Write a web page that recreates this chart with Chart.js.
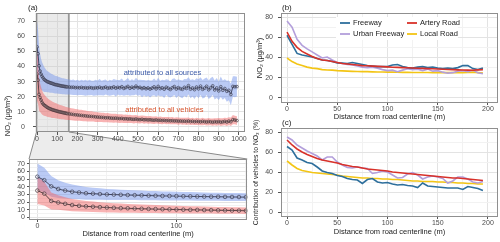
<!DOCTYPE html>
<html>
<head>
<meta charset="utf-8">
<script src="https://cdn.jsdelivr.net/npm/chart.js@4.4.1/dist/chart.umd.min.js"></script>
<style>
  html, body { margin: 0; padding: 0; background: #fff; }
  body { width: 500px; height: 242px; position: relative; overflow: hidden; font-family: "Liberation Sans", Arial, sans-serif; }
  .box { position: absolute; }
  #ytitleA { position: absolute; left: -32px; top: 111px; width: 80px; height: 10px; line-height: 10px; text-align: center;
             font-size: 7.5px; color: #222; transform: rotate(-90deg); white-space: nowrap; z-index: 3; }
</style>
</head>
<body>
<div class="box" style="left:0;top:128px;width:252px;height:114px;z-index:1"><canvas id="zoomChart"></canvas></div>
<div class="box" style="left:0;top:0;width:250px;height:148px;z-index:2"><canvas id="mainChart"></canvas></div>
<div class="box" style="left:250px;top:115px;width:250px;height:127px;z-index:1"><canvas id="shareChart"></canvas></div>
<div class="box" style="left:250px;top:0;width:250px;height:122px;z-index:2"><canvas id="no2Chart"></canvas></div>
<div id="ytitleA">NO₂ (μg/m³)</div>

<script>
// ---- panel (a): distance profile (m), NO2 mean and spread ----
const distNear = [0, 5, 10, 15, 20, 25, 30, 35, 40, 45, 50, 55, 60, 65, 70, 75, 80, 85, 90, 95,
  100, 105, 110, 115, 120, 125, 130, 135, 140, 145, 150];
const distFar = [160, 170, 180, 190, 200, 210, 220, 230, 240, 250, 260, 270, 280, 290, 300, 310, 320, 330, 340, 350,
  360, 370, 380, 390, 400, 410, 420, 430, 440, 450, 460, 470, 480, 490, 500, 510, 520, 530, 540, 550,
  560, 570, 580, 590, 600, 610, 620, 630, 640, 650, 660, 670, 680, 690, 700, 710, 720, 730, 740, 750,
  760, 770, 780, 790, 800, 810, 820, 830, 840, 850, 860, 870, 880, 890, 900, 910, 920, 930, 940, 950,
  960, 970, 980, 990];

const allSourcesNear = [53, 48.5, 40.5, 37, 35, 33.5, 32.5, 31.5, 31, 30.5, 30, 29.8, 29.5, 29.2, 29, 28.8, 28.5, 28.3, 28, 28,
  27.8, 27.6, 27.5, 27.3, 27.2, 27, 27, 26.8, 26.7, 26.6, 26.5];
const allSourcesFar = [26.4, 26.2, 26.3, 26.0, 26.1, 25.9, 26.2, 25.8, 26.0, 25.7,
  26.1, 25.9, 25.6, 26.0, 25.8, 26.3, 25.7, 25.9, 26.4, 25.6,
  26.0, 25.8, 26.5, 25.7, 26.2, 25.9, 26.6, 25.5, 26.1, 26.8,
  25.6, 26.3, 25.8, 27.0, 25.9, 26.2, 25.4, 26.0, 25.3, 25.8,
  25.1, 25.7, 26.5, 25.2, 26.8, 25.4, 25.9, 25.0, 26.3, 25.6,
  24.8, 25.9, 26.7, 25.1, 26.0, 25.3, 24.9, 26.2, 25.5, 27.3,
  25.0, 25.8, 24.7, 26.4, 25.2, 27.0, 24.9, 25.7, 26.9, 24.6,
  25.9, 27.2, 24.5, 25.8, 23.9, 26.6, 24.3, 25.4, 23.6, 24.2,
  21.5, 26.8, 26.6, 26.7];
const allSourcesSdNear = [17, 16, 13.5, 11.5, 10.2, 9.4, 8.8, 8.3, 7.8, 7.4, 7.1, 6.9, 6.7, 6.5, 6.3, 6.2, 6.1, 6.0, 5.9, 5.8,
  5.7, 5.6, 5.5, 5.5, 5.4, 5.3, 5.3, 5.2, 5.2, 5.1, 5.1];
const allSourcesSdFar = [5.0, 4.9, 5.1, 4.8, 5.2, 4.7, 5.0, 4.9, 5.3, 4.8,
  5.1, 4.7, 5.0, 5.2, 4.9, 5.4, 4.8, 5.1, 5.0, 4.7,
  5.3, 4.9, 5.2, 5.5, 4.8, 5.1, 5.4, 4.9, 5.2, 5.6,
  5.0, 5.3, 4.9, 5.5, 5.2, 5.0, 5.7, 5.1, 5.4, 5.2,
  5.6, 5.0, 5.5, 5.3, 5.8, 5.1, 5.4, 5.9, 5.2, 5.6,
  5.3, 5.8, 5.5, 6.0, 5.4, 5.7, 5.9, 5.5, 6.1, 5.6,
  6.0, 5.7, 6.2, 5.8, 6.3, 5.9, 6.1, 6.4, 5.8, 6.2,
  6.5, 6.0, 6.3, 6.6, 6.1, 6.8, 6.4, 6.2, 6.9, 6.5,
  7.2, 6.8, 7.0, 6.6];

const vehiclesNear = [35, 31, 21.5, 19.5, 17.8, 16.2, 15.2, 14.5, 14, 13.5, 13, 12.6, 12.2, 12, 11.7, 11.4, 11.2, 11, 10.8, 10.6,
  10.4, 10.2, 10, 9.9, 9.7, 9.6, 9.4, 9.3, 9.1, 9, 8.8];
const vehiclesFar = [8.6, 8.4, 8.2, 8.0, 7.9, 7.7, 7.6, 7.4, 7.3, 7.1,
  7.0, 6.9, 6.8, 6.6, 6.5, 6.4, 6.3, 6.2, 6.0, 6.1,
  5.9, 5.8, 5.7, 5.8, 5.6, 5.5, 5.6, 5.3, 5.4, 5.2,
  5.3, 5.1, 5.0, 5.2, 4.9, 4.8, 5.0, 4.7, 4.8, 4.6,
  4.7, 4.5, 4.4, 4.6, 4.3, 4.4, 4.2, 4.3, 4.1, 4.2,
  4.0, 4.1, 3.9, 4.0, 3.8, 3.9, 3.7, 3.8, 3.6, 3.9,
  3.5, 3.7, 3.4, 3.6, 3.5, 3.3, 3.6, 3.4, 3.2, 3.5,
  3.3, 3.1, 3.4, 3.2, 3.5, 3.1, 3.3, 3.6, 3.2, 3.8,
  3.4, 4.8, 4.5, 4.2];
const vehiclesSdNear = [17.5, 15.5, 11, 9.5, 8.7, 8, 7.5, 7.1, 6.8, 6.5, 6.3, 6.1, 5.9, 5.7, 5.6, 5.5, 5.3, 5.2, 5.1, 5.0,
  4.9, 4.8, 4.7, 4.6, 4.6, 4.5, 4.4, 4.4, 4.3, 4.2, 4.2];
const vehiclesSdFar = [4.1, 4.0, 3.9, 3.9, 3.8, 3.7, 3.7, 3.6, 3.5, 3.5,
  3.4, 3.4, 3.3, 3.3, 3.2, 3.2, 3.1, 3.1, 3.0, 3.1,
  3.0, 2.9, 3.0, 2.9, 2.8, 2.9, 2.8, 2.7, 2.8, 2.7,
  2.7, 2.6, 2.7, 2.6, 2.5, 2.6, 2.5, 2.6, 2.4, 2.5,
  2.5, 2.4, 2.5, 2.4, 2.3, 2.5, 2.4, 2.3, 2.4, 2.3,
  2.3, 2.4, 2.2, 2.3, 2.4, 2.2, 2.3, 2.2, 2.4, 2.3,
  2.2, 2.3, 2.2, 2.4, 2.2, 2.3, 2.5, 2.2, 2.3, 2.4,
  2.2, 2.4, 2.3, 2.5, 2.3, 2.6, 2.4, 2.5, 2.7, 2.6,
  2.8, 3.0, 2.8, 2.9];

// ---- panels (b) and (c): by road type ----
const roadTypes = ["Freeway", "Artery Road", "Urban Freeway", "Local Road"];
const roadColors = ["#2e6f9c", "#d8312a", "#b39fdb", "#f3c515"];
const roadDist = [0, 5, 10, 15, 20, 25, 30, 35, 40, 45, 50, 55, 60, 65, 70, 75, 80, 85, 90, 95,
  100, 105, 110, 115, 120, 125, 130, 135, 140, 145, 150, 155, 160, 165, 170, 175, 180, 185, 190, 195];

const no2Freeway = [62, 53, 44, 42.5, 41.5, 40.5, 39, 37.5, 37, 36, 34.5, 34.5, 34, 35, 34, 33, 32, 31.5, 31, 31,
  31, 32.5, 33, 31, 30, 29.5, 30.5, 31, 30, 30.5, 29.5, 29, 29.5, 29, 30, 32, 32, 29, 28, 29.5];
const no2Artery = [65, 56, 50, 46, 43.5, 41, 39, 37.5, 37, 36, 35, 34, 33.5, 33, 32.5, 32, 31.8, 31.5, 31.2, 31,
  30.7, 30.4, 30.2, 30, 29.8, 29.6, 29.4, 29.2, 29, 28.8, 28.6, 28.4, 28.2, 28, 27.8, 27.6, 27.5, 27.4, 27.8, 28];
const no2Urban = [76, 70, 58, 52, 48.5, 45.5, 42.5, 39.5, 40.5, 37.5, 35, 34, 33, 32.5, 31.5, 30.5, 30, 30.5, 29.5, 28,
  27, 27.5, 26, 27.5, 29, 28, 28.5, 27, 28.5, 26.5, 27, 25.5, 24.5, 25, 26.5, 27, 26, 27.5, 25, 24];
const no2Local = [39.5, 36, 33.5, 32, 30.5, 29.5, 29, 28, 27.7, 27.5, 27, 26.8, 26.5, 26.3, 26.2, 26, 26, 25.8, 25.7, 25.6,
  25.5, 25.5, 25.4, 25.3, 25.3, 25.2, 25.2, 25.1, 25.1, 25, 25, 25, 25, 25, 25, 25, 25.2, 25.5, 25, 24.5];

const shareFreeway = [65.5, 62, 54, 52, 49.5, 48.5, 45, 41, 39.5, 38.5, 36.5, 35.5, 33.5, 32.5, 32, 28.5, 32.5, 33.5, 30, 29,
  29.5, 28, 27, 27.5, 26.5, 26, 24.5, 29, 26, 25.5, 25, 24.5, 24, 24, 24, 22.5, 25.5, 24.5, 23.5, 21.5];
const shareArtery = [72, 67, 63, 60, 57.5, 55.5, 53.5, 52, 51, 50, 49, 47.5, 46.5, 45.5, 45, 44, 43, 42.5, 42, 41.5,
  41, 40, 39.5, 39, 38.5, 38, 37.5, 37, 36.5, 36, 35.5, 35, 34.5, 34, 34, 33.5, 33, 32.5, 32, 31.5];
const shareUrban = [75, 72, 67, 64, 61, 58.5, 56, 52, 55, 55, 50, 47, 44.5, 44, 45, 44, 43.5, 38.5, 39.5, 41,
  40, 37, 34, 34.5, 38, 39.5, 37, 33, 35, 36, 35, 33.5, 29, 31, 35, 35, 33, 30, 29, 30.5];
const shareLocal = [51, 47, 43.5, 41.5, 40.5, 39.5, 39, 38.5, 38, 37.5, 37, 36, 35.5, 35, 34.5, 34, 34, 33.5, 33.5, 33,
  33, 32.5, 32.5, 32, 31.5, 31, 31, 30.5, 30.5, 30.5, 30, 30, 29.5, 29.5, 29, 29, 28.5, 28.5, 28, 28];

const SHADE_MAX = 158;
const FONT = "'Liberation Sans', Arial, sans-serif";

const distance = distNear.concat(distFar);
const allSources = allSourcesNear.concat(allSourcesFar);
const allSourcesSd = allSourcesSdNear.concat(allSourcesSdFar);
const vehicles = vehiclesNear.concat(vehiclesFar);
const vehiclesSd = vehiclesSdNear.concat(vehiclesSdFar);

function xy(xs, ys) {
  return xs.map((x, i) => ({ x, y: ys[i] }));
}

function isMajor(v, major) {
  return Math.abs(v / major - Math.round(v / major)) < 1e-6;
}

function axis(o) {
  const a = {
    type: "linear",
    min: o.min,
    max: o.max,
    border: { display: false },
    grid: {
      color: (c) => (c.tick && isMajor(c.tick.value, o.major) ? "#e3e3e3" : "#f2f2f2"),
      lineWidth: 1,
      tickColor: (c) => (c.tick && isMajor(c.tick.value, o.major) ? "#555" : "rgba(0,0,0,0)"),
      tickLength: o.tickLen || 3,
    },
    ticks: {
      stepSize: o.step,
      includeBounds: false,
      autoSkip: false,
      maxRotation: 0,
      padding: o.pad == null ? 1 : o.pad,
      color: "#4d4d4d",
      font: { family: FONT, size: 7 },
      callback: (v) => (isMajor(v, o.major) ? v : ""),
    },
    afterFit: (s) => {
      if (o.width) s.width = o.width;
      if (o.height) s.height = o.height;
    },
  };
  if (o.title) a.title = o.title;
  return a;
}

function bandSets(mean, sd, color, order) {
  return [
    { data: xy(distance, mean.map((m, i) => m + sd[i])), borderWidth: 0, borderColor: "transparent",
      pointRadius: 0, fill: false, order },
    { data: xy(distance, mean.map((m, i) => m - sd[i])), borderWidth: 0, borderColor: "transparent",
      pointRadius: 0, backgroundColor: color, fill: "-1", order },
  ];
}

function meanSet(mean, color, r, order) {
  return {
    data: xy(distance, mean), borderColor: color, borderWidth: 0.9, fill: false, order,
    pointRadius: r, pointBorderWidth: 0.7, pointBorderColor: color,
    pointBackgroundColor: "rgba(255,255,255,0.2)",
  };
}

function profileSets(r) {
  return [
    ...bandSets(allSources, allSourcesSd, "rgba(118,150,236,0.5)", 4),
    ...bandSets(vehicles, vehiclesSd, "rgba(242,104,104,0.5)", 3),
    meanSet(allSources, "#363a52", r, 2),
    meanSet(vehicles, "#4a3438", r, 1),
  ];
}

// frame round plot area + panel tag
const framePlugin = {
  id: "frame",
  afterDatasetsDraw(chart, args, opts) {
    const { ctx, chartArea: a } = chart;
    ctx.save();
    ctx.strokeStyle = "#8f8f8f";
    ctx.lineWidth = 1;
    ctx.strokeRect(Math.round(a.left) + 0.5, Math.round(a.top) + 0.5,
      Math.round(a.right - a.left) - 1, Math.round(a.bottom - a.top) - 1);
    if (opts.tag) {
      ctx.fillStyle = "#222";
      ctx.font = "8px " + FONT;
      ctx.textBaseline = "bottom";
      ctx.fillText(opts.tag, a.left + (opts.dx || 0), a.top - 1);
    }
    ctx.restore();
  },
};

// grey highlight of the zoomed range
const shadePlugin = {
  id: "shade",
  beforeDatasetsDraw(chart, args, opts) {
    if (!opts.max) return;
    const { ctx, chartArea: a, scales } = chart;
    const xr = scales.x.getPixelForValue(opts.max);
    ctx.save();
    ctx.fillStyle = "rgba(200,200,200,0.38)";
    ctx.fillRect(a.left, a.top, xr - a.left, a.bottom - a.top);
    ctx.strokeStyle = "#7d7d7d";
    ctx.lineWidth = 1.3;
    ctx.beginPath();
    ctx.moveTo(a.left + 0.5, a.top);
    ctx.lineTo(a.left + 0.5, a.bottom);
    ctx.moveTo(xr, a.top);
    ctx.lineTo(xr, a.bottom);
    ctx.stroke();
    ctx.restore();
  },
};

// text labels placed at data coordinates
const notePlugin = {
  id: "notes",
  afterDatasetsDraw(chart, args, opts) {
    if (!opts.items) return;
    const { ctx, scales } = chart;
    ctx.save();
    ctx.font = "7.5px " + FONT;
    ctx.textAlign = "center";
    ctx.textBaseline = "middle";
    opts.items.forEach((n) => {
      ctx.fillStyle = n.color;
      ctx.fillText(n.text, scales.x.getPixelForValue(n.x), scales.y.getPixelForValue(n.y));
    });
    ctx.restore();
  },
};

// legend drawn inside the plot area, two columns
const insideLegend = {
  id: "insideLegend",
  afterDatasetsDraw(chart, args, opts) {
    if (!opts.show) return;
    const { ctx, chartArea: a } = chart;
    ctx.save();
    ctx.fillStyle = "#fff";
    ctx.fillRect(a.left + opts.boxX, a.top + opts.boxY, opts.boxW, opts.boxH);
    ctx.font = "7.5px " + FONT;
    ctx.textBaseline = "middle";
    chart.data.datasets.forEach((ds, i) => {
      const col = i % 2, row = Math.floor(i / 2);
      const x = a.left + opts.x0 + col * opts.colW;
      const y = a.top + opts.y0 + row * opts.rowH;
      ctx.strokeStyle = ds.borderColor;
      ctx.lineWidth = 1.8;
      ctx.beginPath();
      ctx.moveTo(x, y);
      ctx.lineTo(x + 10, y);
      ctx.stroke();
      ctx.fillStyle = "#222";
      ctx.fillText(ds.label, x + 13, y);
    });
    ctx.restore();
  },
};

Chart.register(framePlugin, shadePlugin, notePlugin, insideLegend);

const basePlugins = { legend: { display: false }, tooltip: { enabled: false } };

// (a) full profile
const mainChart = new Chart(document.getElementById("mainChart"), {
  type: "line",
  data: { datasets: profileSets(1.4) },
  options: {
    responsive: true, maintainAspectRatio: false, animation: false,
    layout: { padding: { top: 13, right: 5, left: 0, bottom: 0 } },
    scales: {
      x: axis({ min: -5, max: 1030, step: 50, major: 100, height: 16, tickLen: 3, pad: 0 }),
      y: axis({ min: -3.4, max: 75.5, step: 5, major: 10, width: 36, tickLen: 3, pad: 8 }),
    },
    plugins: {
      ...basePlugins,
      frame: { tag: "(a)", dx: -8 },
      shade: { max: SHADE_MAX },
      notes: {
        items: [
          { text: "attributed to all sources", x: 621, y: 35.7, color: "#3b5aa8" },
          { text: "attributed to all vehicles", x: 631, y: 11.2, color: "#d8552e" },
        ],
      },
    },
  },
});

// connector between the grey range and the zoom panel
const connectorPlugin = {
  id: "connector",
  beforeDraw(chart) {
    const { ctx, chartArea: a } = chart;
    const yTop = mainChart.chartArea.bottom - 128;
    const xl = mainChart.chartArea.left + 0.5;
    const xr = mainChart.scales.x.getPixelForValue(SHADE_MAX);
    ctx.save();
    ctx.fillStyle = "#ececec";
    ctx.beginPath();
    ctx.moveTo(xl, yTop);
    ctx.lineTo(xr, yTop);
    ctx.lineTo(a.right, a.top);
    ctx.lineTo(a.left, a.top);
    ctx.closePath();
    ctx.fill();
    ctx.strokeStyle = "#8a8a8a";
    ctx.lineWidth = 1;
    ctx.beginPath();
    ctx.moveTo(xl, yTop);
    ctx.lineTo(a.left, a.top);
    ctx.moveTo(xr, yTop);
    ctx.lineTo(a.right, a.top);
    ctx.stroke();
    ctx.restore();
  },
};

// (a) zoom on the first 150 m
new Chart(document.getElementById("zoomChart"), {
  type: "line",
  data: { datasets: profileSets(1.8) },
  plugins: [connectorPlugin],
  options: {
    responsive: true, maintainAspectRatio: false, animation: false,
    layout: { padding: { top: 31, right: 3, left: 0, bottom: 0 } },
    scales: {
      x: axis({
        min: -6, max: 151, step: 50, major: 100, height: 22, tickLen: 2, pad: 0,
        title: { display: true, text: "Distance from road centerline (m)", color: "#222",
          font: { family: FONT, size: 7.5 }, padding: { top: 0, bottom: 3.5 } },
      }),
      y: axis({ min: -3.2, max: 76, step: 5, major: 10, width: 29, tickLen: 2, pad: 2 }),
    },
    plugins: { ...basePlugins },
  },
});

function roadSets(series) {
  return series.map((vals, i) => ({
    label: roadTypes[i], data: xy(roadDist, vals), borderColor: roadColors[i],
    borderWidth: 1.6, pointRadius: 0, fill: false, order: i === 1 ? 0 : 1,
  }));
}

function roadScales(xHeight, titlePadBottom, yTitle, yTitleSize, yTitlePad) {
  return {
    x: axis({
      min: -6, max: 210, step: 25, major: 50, height: xHeight, tickLen: 2, pad: 0,
      title: { display: true, text: "Distance from road centerline (m)", color: "#222",
        font: { family: FONT, size: 7.5 }, padding: { top: 0, bottom: titlePadBottom } },
    }),
    y: axis({
      min: -5, max: 84, step: 10, major: 20, width: 31, tickLen: 3, pad: 5,
      title: { display: true, text: yTitle, color: "#222",
        font: { family: FONT, size: yTitleSize }, padding: { top: yTitlePad, bottom: 0 } },
    }),
  };
}

// (b) NO2 by road type
new Chart(document.getElementById("no2Chart"), {
  type: "line",
  data: { datasets: roadSets([no2Freeway, no2Artery, no2Urban, no2Local]) },
  options: {
    responsive: true, maintainAspectRatio: false, animation: false,
    layout: { padding: { top: 13, right: 2, left: 0, bottom: 0 } },
    scales: roadScales(19, 0.5, "NO₂ (μg/m³)", 7.5, 5.5),
    plugins: {
      ...basePlugins,
      frame: { tag: "(b)", dx: 1 },
      insideLegend: { show: true, boxX: 55, boxY: 4, boxW: 122, boxH: 23, x0: 59, y0: 10, colW: 67, rowH: 11 },
    },
  },
});

// (c) vehicle share by road type
new Chart(document.getElementById("shareChart"), {
  type: "line",
  data: { datasets: roadSets([shareFreeway, shareArtery, shareUrban, shareLocal]) },
  options: {
    responsive: true, maintainAspectRatio: false, animation: false,
    layout: { padding: { top: 13, right: 2, left: 0, bottom: 0 } },
    scales: roadScales(25, 5.5, "Contribution of vehicles to NO₂ (%)", 6.8, 2.5),
    plugins: {
      ...basePlugins,
      frame: { tag: "(c)", dx: 1 },
    },
  },
});
</script>
</body>
</html>
